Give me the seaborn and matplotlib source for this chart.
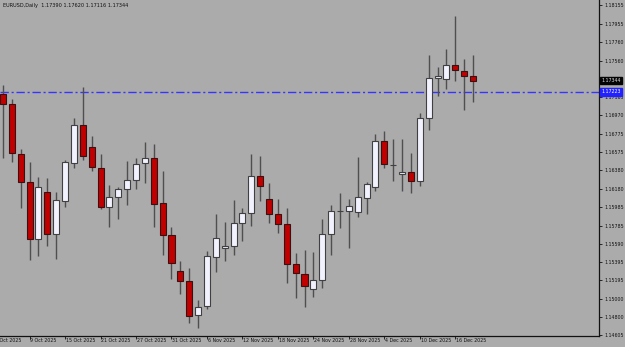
import numpy as np
import pandas as pd
import matplotlib
matplotlib.use("Agg")
import matplotlib.pyplot as plt
import matplotlib.transforms as mtransforms
import seaborn as sns

# ---------------- data ----------------
dates = ["6 Oct", "7 Oct", "8 Oct", "9 Oct", "10 Oct", "13 Oct", "14 Oct", "15 Oct", "16 Oct", "17 Oct",
         "20 Oct", "21 Oct", "22 Oct", "23 Oct", "24 Oct", "27 Oct", "28 Oct", "29 Oct", "30 Oct", "31 Oct",
         "3 Nov", "4 Nov", "5 Nov", "6 Nov", "7 Nov", "10 Nov", "11 Nov", "12 Nov", "13 Nov", "14 Nov",
         "17 Nov", "18 Nov", "19 Nov", "20 Nov", "21 Nov", "24 Nov", "25 Nov", "26 Nov", "27 Nov", "28 Nov",
         "1 Dec", "2 Dec", "3 Dec", "4 Dec", "5 Dec", "8 Dec", "9 Dec", "10 Dec", "11 Dec", "12 Dec",
         "15 Dec", "16 Dec", "17 Dec", "18 Dec"]
opens = [1.17201, 1.17093, 1.16555, 1.16254, 1.15640, 1.16146, 1.15694, 1.16049, 1.16458, 1.16867,
         1.16630, 1.16404, 1.15985, 1.16092, 1.16178, 1.16275, 1.16458, 1.16512, 1.16028, 1.15683,
         1.15296, 1.15188, 1.14823, 1.14919, 1.15447, 1.15544, 1.15565, 1.15813, 1.15920, 1.16318,
         1.16071, 1.15909, 1.15802, 1.15371, 1.15264, 1.15102, 1.15199, 1.15694, 1.15942, 1.15942,
         1.15931, 1.16082, 1.16200, 1.16695, 1.16437, 1.16340, 1.16361, 1.16264, 1.16942, 1.17373,
         1.17362, 1.17513, 1.17448, 1.17390]
highs = [1.17297, 1.17147, 1.16609, 1.16469, 1.16308, 1.16297, 1.16146, 1.16490, 1.16942, 1.17276,
         1.16749, 1.16555, 1.16221, 1.16200, 1.16480, 1.16512, 1.16684, 1.16663, 1.16372, 1.15770,
         1.15404, 1.15328, 1.14984, 1.15511, 1.15909, 1.15823, 1.16060, 1.15974, 1.16555, 1.16533,
         1.16243, 1.16071, 1.15974, 1.15490, 1.15522, 1.15501, 1.15856, 1.16006, 1.16135, 1.16071,
         1.16523, 1.16254, 1.16770, 1.16802, 1.16716, 1.16716, 1.16566, 1.16996, 1.17620, 1.17491,
         1.17685, 1.18040, 1.17577, 1.17620]
lows = [1.16512, 1.16469, 1.15974, 1.15414, 1.15457, 1.15565, 1.15425, 1.15985, 1.16404, 1.16490,
        1.16372, 1.15963, 1.15770, 1.15856, 1.16006, 1.16178, 1.16243, 1.15770, 1.15468, 1.15210,
        1.15049, 1.14737, 1.14683, 1.14887, 1.15285, 1.15404, 1.15468, 1.15619, 1.15780, 1.16049,
        1.15813, 1.15705, 1.15167, 1.15006, 1.14909, 1.15016, 1.15113, 1.15468, 1.15759, 1.15544,
        1.15877, 1.15909, 1.16157, 1.16404, 1.16264, 1.16157, 1.16135, 1.16211, 1.16813, 1.17179,
        1.17254, 1.17340, 1.17028, 1.17116]
closes = [1.17093, 1.16566, 1.16254, 1.15640, 1.16200, 1.15694, 1.16060, 1.16469, 1.16867, 1.16533,
          1.16415, 1.15985, 1.16092, 1.16178, 1.16275, 1.16447, 1.16512, 1.16017, 1.15683, 1.15382,
          1.15188, 1.14812, 1.14909, 1.15457, 1.15651, 1.15565, 1.15813, 1.15920, 1.16318, 1.16211,
          1.15909, 1.15802, 1.15371, 1.15275, 1.15135, 1.15199, 1.15694, 1.15942, 1.15945, 1.15995,
          1.16092, 1.16232, 1.16695, 1.16447, 1.16440, 1.16361, 1.16264, 1.16942, 1.17373, 1.17394,
          1.17513, 1.17459, 1.17394, 1.17344]

x_tick_pos = [-1, 3, 7, 11, 15, 19, 23, 27, 31, 35, 39, 43, 47, 51]
x_tick_labels = ["3 Oct 2025", "9 Oct 2025", "15 Oct 2025", "21 Oct 2025", "27 Oct 2025", "31 Oct 2025",
                 "6 Nov 2025", "12 Nov 2025", "18 Nov 2025", "24 Nov 2025", "28 Nov 2025", "4 Dec 2025",
                 "10 Dec 2025", "16 Dec 2025"]
y_ticks = [1.18155, 1.17955, 1.17760, 1.17560, 1.17365, 1.17165, 1.16970, 1.16775, 1.16575, 1.16380,
           1.16180, 1.15985, 1.15785, 1.15590, 1.15395, 1.15195, 1.15000, 1.14800, 1.14605]
hidden_y_labels = [1.17365]
title_text = "EURUSD,Daily  1.17390 1.17620 1.17116 1.17344"
bid_price = 1.17344
line_price = 1.17223

df = pd.DataFrame({"date": dates, "open": opens, "high": highs, "low": lows, "close": closes})
df["idx"] = np.arange(len(df))
df["bull"] = df["close"] >= df["open"]

# ---------------- style ----------------
BG = "#ABABAB"
sns.set_theme(style="white", rc={"axes.facecolor": BG, "figure.facecolor": BG})
plt.rcParams["font.family"] = ["DejaVu Sans"]

W, H = 625, 347
fig = plt.figure(figsize=(W / 100, H / 100), dpi=100)
ax = fig.add_axes([0, 11 / H, 599 / W, 336 / H])
ax.set_facecolor(BG)

px_per_bar = 8.868
ax.set_xlim(-3 / px_per_bar, 596 / px_per_bar)
ax.set_ylim(1.14597, 1.18212)

body_w = 0.68
wick_col = "#4f4f4f"
bull_fill = "#F2F2FF"
bull_edge = "#404040"
bear_fill = "#C00000"
bear_edge = "#3a1010"

# wicks
ax.vlines(df["idx"], df["low"], df["high"], color=wick_col, linewidth=1.0, zorder=2)
# bodies
for bull, fill, edge in [(True, bull_fill, bull_edge), (False, bear_fill, bear_edge)]:
    sub = df[df["bull"] == bull]
    bottoms = np.minimum(sub["open"], sub["close"])
    heights = np.abs(sub["close"] - sub["open"])
    heights = np.maximum(heights, 0.00003)
    ax.bar(sub["idx"], heights, bottom=bottoms, width=body_w, color=fill,
           edgecolor=edge, linewidth=0.8, zorder=3)

# horizontal dash-dot line
ax.axhline(line_price, color="#3535FF", linewidth=1.0, linestyle=(0, (6, 2, 1.5, 2)), zorder=1.5)

# spines
for s in ["top", "left"]:
    ax.spines[s].set_visible(False)
for s in ["right", "bottom"]:
    ax.spines[s].set_visible(True)
    ax.spines[s].set_color("#111111")
    ax.spines[s].set_linewidth(0.9)

FS = 3.4
ax.yaxis.tick_right()
ax.set_yticks(y_ticks)
ax.set_yticklabels(["" if v in hidden_y_labels else f"{v:.5f}" for v in y_ticks],
                   fontsize=FS, color="#111111")
ax.tick_params(axis="y", which="major", direction="out", length=2.5, width=0.6, color="#111111", pad=1.5,
               right=True, left=False)

ax.set_xticks(x_tick_pos[1:])
ax.set_xticklabels([])
ax.tick_params(axis="x", which="major", direction="out", length=2.5, width=0.6, color="#111111", bottom=True)
trans_x = mtransforms.blended_transform_factory(ax.transData, fig.transFigure)
for pos, lab in zip(x_tick_pos, x_tick_labels):
    ax.text(pos + 0.1, 6 / H, lab, transform=trans_x, fontsize=FS, color="#111111",
            ha="left", va="center", clip_on=False)

ax.grid(False)

# title
fig.text(3 / W, 1 - 5 / H, title_text, fontsize=3.6, color="#111111", ha="left", va="center")

# price labels on right axis
trans_y = mtransforms.blended_transform_factory(fig.transFigure, ax.transData)
ax.text(601 / W, bid_price, f"{bid_price:.5f}", transform=trans_y, fontsize=FS, color="#DDDDDD",
        ha="left", va="center", clip_on=False, zorder=10,
        bbox=dict(boxstyle="square,pad=0.25", facecolor="#050505", edgecolor="#050505"))
ax.text(601 / W, line_price, f"{line_price:.5f}", transform=trans_y, fontsize=FS, color="#FFFFFF",
        ha="left", va="center", clip_on=False, zorder=10,
        bbox=dict(boxstyle="square,pad=0.25", facecolor="#2222FF", edgecolor="#2222FF"))

fig.savefig("out.png", dpi=100, facecolor=BG)
